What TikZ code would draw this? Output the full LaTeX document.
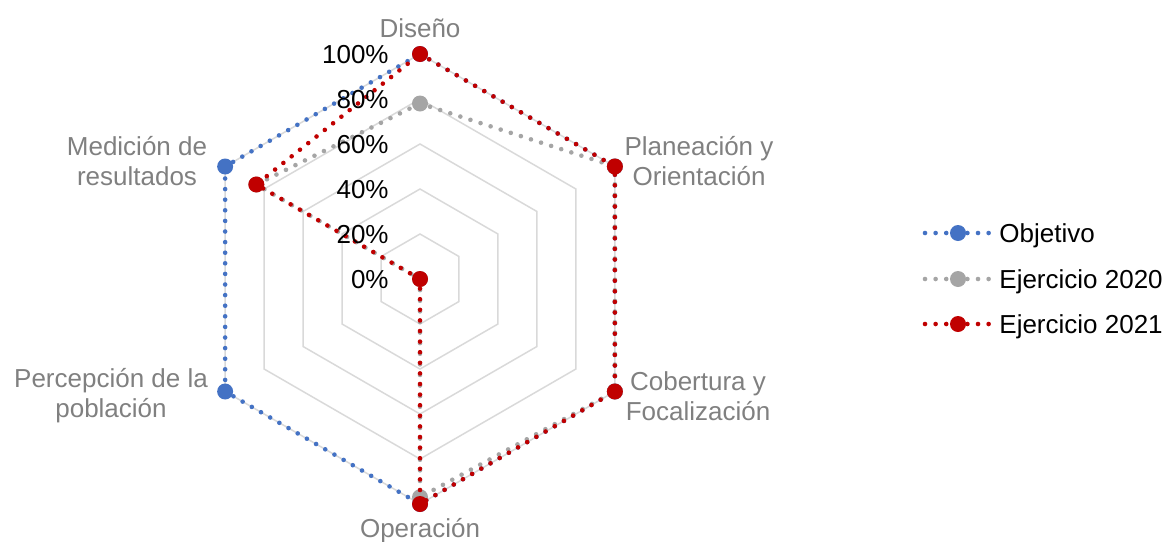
\documentclass[tikz,border=0pt]{standalone}
\usepackage{fontspec}
\setmainfont{Liberation Sans}
\usetikzlibrary{calc}
\definecolor{cblue}{HTML}{4472C4}
\definecolor{cgray}{HTML}{A5A5A5}
\definecolor{cred}{HTML}{C00000}
\definecolor{clabel}{HTML}{808080}
\definecolor{cgrid}{HTML}{D9D9D9}
\begin{document}
\begin{tikzpicture}[x=0.5pt,y=-0.5pt,
  ser/.style={line width=2.3pt, dash pattern=on 0pt off 5.3pt, line cap=round},
  mk/.style={circle, inner sep=0pt, minimum size=8pt, fill=#1, draw=none},
  gridline/.style={cgrid, line width=0.75pt},
  cat/.style={text=clabel, font=\fontsize{13}{15}\selectfont, align=center, inner sep=0pt},
  ticklab/.style={font=\fontsize{13}{15}\selectfont, anchor=base east, inner sep=0pt},
  leg/.style={font=\fontsize{13}{15}\selectfont, anchor=base west, inner sep=0pt}]
\useasboundingbox (0,0) rectangle (1170,541);
\coordinate (C) at (420,279);
% grid rings
\foreach \v in {0.2,0.4,0.6,0.8,1.0} {
  \draw[gridline] ($(C)+(-90:{225*\v})$)
    \foreach \k in {1,...,5} { -- ($(C)+({-90+60*\k}:{225*\v})$) } -- cycle;
}
% data coordinates
\foreach \k in {0,...,5} {
  \coordinate (o\k) at ($(C)+({-90+60*\k}:225)$);
}
\foreach \k/\v in {0/0.78,1/1,2/1,3/0.97,4/0,5/0.84} {
  \coordinate (g\k) at ($(C)+({-90+60*\k}:{225*\v})$);
}
\foreach \k/\v in {0/1,1/1,2/1,3/1,4/0,5/0.84} {
  \coordinate (r\k) at ($(C)+({-90+60*\k}:{225*\v})$);
}
% Objetivo
\draw[ser, cblue] (o0) -- (o1) -- (o2) -- (o3) -- (o4) -- (o5) -- cycle;
\foreach \k in {0,...,5} { \node[mk=cblue] (bo\k) at (o\k) {}; }
% Ejercicio 2020
\draw[ser, cgray] (g0) -- (g1) -- (g2) -- (g3) -- (g4) -- (g5) -- cycle;
\foreach \k in {0,...,5} { \node[mk=cgray] (bg\k) at (g\k) {}; }
% Ejercicio 2021
\draw[ser, cred] (r0) -- (r1) -- (r2) -- (r3) -- (r4) -- (r5) -- cycle;
\foreach \k in {0,...,5} { \node[mk=cred] (br\k) at (r\k) {}; }
% category labels
\node[cat, anchor=base] (lDis) at (420,37) {Diseño};
\node[cat] (lPla) at (699,161) {Planeación y\\Orientación};
\node[cat] (lCob) at (698,396) {Cobertura y\\Focalización};
\node[cat, anchor=base] (lOpe) at (420,537) {Operación};
\node[cat] (lPer) at (111,396) {Percepción de la\\población};
\node[cat] (lMed) at (137,161) {Medición de\\resultados};
% tick labels
\node[ticklab] (t100) at (389,63) {100\%};
\node[ticklab] (t80) at (389,108) {80\%};
\node[ticklab] (t60) at (389,153) {60\%};
\node[ticklab] (t40) at (389,198) {40\%};
\node[ticklab] (t20) at (389,243) {20\%};
\node[ticklab] (t0) at (389,288) {0\%};
% legend
\foreach \n/\c/\y/\t in {a/cblue/233/Objetivo, b/cgray/279/Ejercicio 2020, c/cred/324/Ejercicio 2021} {
  \coordinate (ls\n) at (925,\y);
  \coordinate (le\n) at (990,\y);
  \draw[ser, \c] (ls\n) -- (le\n);
  \node[mk=\c] (lm\n) at (958,\y) {};
  \node[leg] (lt\n) at (999,\y+9) {\t};
}
\end{tikzpicture}
\end{document}
